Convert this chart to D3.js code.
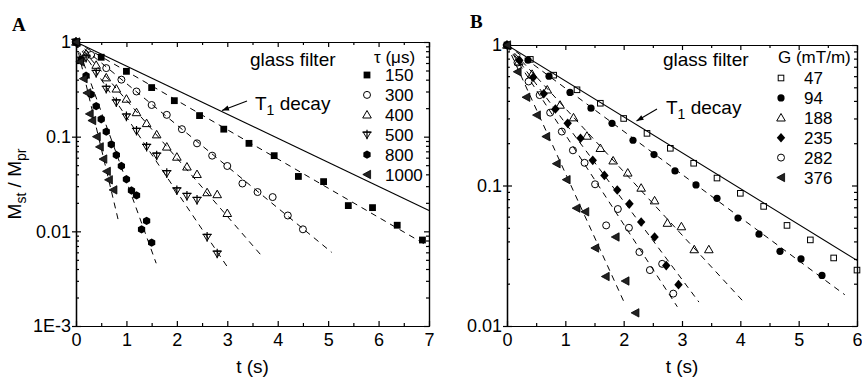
<!DOCTYPE html>
<html><head><meta charset="utf-8">
<script src="https://cdn.jsdelivr.net/npm/d3@7"></script>
<style>
body{margin:0;background:#fff}
svg{display:block}
text{font-family:"Liberation Sans",Arial,sans-serif;fill:#000}
.axis path,.axis line{stroke:#000;stroke-width:1.2}
</style>
</head><body><svg id="c" width="862" height="378"></svg>
<script>
// ---------- Panel A data (tau in µs) ----------
const tauLabels = ["150", "300", "400", "500", "800", "1000"];
const tA150 = [0, 0.5, 1.0, 1.5, 1.95, 2.45, 2.93, 3.43, 3.93, 4.41, 4.91, 5.4, 5.88, 6.37, 6.87];
const vA150 = [1, 0.69, 0.49, 0.33, 0.24, 0.167, 0.12, 0.085, 0.063, 0.038, 0.0335, 0.0187, 0.0178, 0.0116, 0.0081];
const tA300 = [0, 0.3, 0.6, 0.9, 1.2, 1.5, 1.8, 2.1, 2.4, 2.7, 3.0, 3.3, 3.6, 3.9, 4.2, 4.5];
const vA300 = [1, 0.73, 0.53, 0.40, 0.30, 0.216, 0.17, 0.12, 0.085, 0.063, 0.049, 0.032, 0.026, 0.023, 0.0147, 0.0105];
const tA400 = [0, 0.2, 0.4, 0.6, 0.8, 1.0, 1.2, 1.4, 1.6, 1.8, 2.0, 2.2, 2.4, 2.6, 2.8, 3.0];
const vA400 = [1, 0.75, 0.57, 0.42, 0.32, 0.25, 0.18, 0.138, 0.105, 0.078, 0.061, 0.048, 0.04, 0.0257, 0.0245, 0.0155];
const tA500 = [0, 0.2, 0.4, 0.6, 0.8, 1.0, 1.2, 1.4, 1.6, 1.8, 2.0, 2.2, 2.4, 2.6, 2.8];
const vA500 = [1, 0.68, 0.47, 0.32, 0.23, 0.163, 0.115, 0.078, 0.063, 0.041, 0.027, 0.0236, 0.0214, 0.0087, 0.0058];
const tA800 = [0, 0.1, 0.2, 0.3, 0.4, 0.5, 0.6, 0.7, 0.8, 0.9, 1.0, 1.1, 1.2, 1.3, 1.4, 1.5];
const vA800 = [1, 0.65, 0.44, 0.28, 0.21, 0.153, 0.113, 0.083, 0.064, 0.049, 0.0355, 0.027, 0.024, 0.0105, 0.0129, 0.0076];
const tA1000 = [0, 0.08, 0.15, 0.22, 0.27, 0.32, 0.41, 0.47, 0.54, 0.61, 0.65, 0.74];
const vA1000 = [1, 0.62, 0.41, 0.29, 0.174, 0.148, 0.1, 0.078, 0.058, 0.043, 0.035, 0.0274];
// fitted exponential decays: end point [t, value], all start at (0,1)
const fitA150 = [7, 0.0069], fitA300 = [5.07, 0.006], fitA400 = [3.67, 0.0056];
const fitA500 = [2.99, 0.0043], fitA800 = [1.59, 0.0046], fitA1000 = [0.84, 0.013];
const t1A = [7, 0.0166];
const xTicksA = [0, 1, 2, 3, 4, 5, 6, 7];
const yTicksA = [1, 0.1, 0.01, 0.001];
const yTickLabelsA = ["1", "0.1", "0.01", "1E-3"];

// ---------- Panel B data (G in mT/m) ----------
const gLabels = ["47", "94", "188", "235", "282", "376"];
const tB47 = [0, 0.4, 0.8, 1.2, 1.6, 2.0, 2.4, 2.8, 3.2, 3.6, 4.0, 4.4, 4.8, 5.2, 5.6, 6.0];
const vB47 = [1, 0.79, 0.61, 0.48, 0.385, 0.30, 0.235, 0.184, 0.144, 0.113, 0.088, 0.071, 0.052, 0.041, 0.0305, 0.025];
const tB94 = [0, 0.36, 0.72, 1.08, 1.44, 1.8, 2.16, 2.52, 2.88, 3.24, 3.6, 3.96, 4.32, 4.68, 5.04, 5.4];
const vB94 = [1, 0.78, 0.6, 0.46, 0.355, 0.277, 0.21, 0.166, 0.127, 0.101, 0.081, 0.0586, 0.045, 0.034, 0.030, 0.0229];
const tB188 = [0, 0.2, 0.43, 0.69, 0.91, 1.14, 1.37, 1.6, 1.82, 2.07, 2.3, 2.53, 2.75, 2.99, 3.21, 3.46];
const vB188 = [1, 0.76, 0.62, 0.48, 0.374, 0.304, 0.225, 0.184, 0.15, 0.123, 0.096, 0.078, 0.054, 0.051, 0.035, 0.035];
const tB235 = [0, 0.21, 0.45, 0.63, 0.83, 1.04, 1.26, 1.47, 1.67, 1.89, 2.1, 2.3, 2.53, 2.73, 2.94];
const vB235 = [1, 0.78, 0.59, 0.45, 0.35, 0.277, 0.217, 0.151, 0.118, 0.093, 0.074, 0.055, 0.043, 0.0269, 0.0197];
const tB282 = [0, 0.18, 0.37, 0.56, 0.74, 0.94, 1.13, 1.33, 1.51, 1.7, 1.9, 2.09, 2.27, 2.45, 2.66, 2.85];
const vB282 = [1, 0.75, 0.55, 0.44, 0.33, 0.242, 0.178, 0.145, 0.102, 0.052, 0.068, 0.050, 0.0336, 0.025, 0.0277, 0.017];
const tB376 = [0, 0.18, 0.33, 0.51, 0.67, 0.85, 1.02, 1.19, 1.34, 1.51, 1.69, 1.86, 2.03, 2.2];
const vB376 = [1, 0.645, 0.425, 0.317, 0.223, 0.143, 0.11, 0.069, 0.065, 0.0359, 0.0225, 0.043, 0.0209, 0.0124];
const fitB94 = [5.79, 0.0167], fitB188 = [4.06, 0.0148], fitB235 = [3.29, 0.0148];
const fitB282 = [2.92, 0.0137], fitB376 = [2.0, 0.015];
const t1B = [6, 0.0293];
const xTicksB = [0, 1, 2, 3, 4, 5, 6];
const yTicksB = [1, 0.1, 0.01];
const yTickLabelsB = ["1", "0.1", "0.01"];

// ---------- drawing ----------
const svg = d3.select("#c");

function marker(g, type) {
  switch (type) {
    case "sqFill": g.append("rect").attr("x", -3.4).attr("y", -3.4).attr("width", 6.8).attr("height", 6.8).attr("fill", "#000"); break;
    case "sqOpen": g.append("rect").attr("x", -2.8).attr("y", -2.8).attr("width", 5.6).attr("height", 5.6).attr("fill", "none").attr("stroke", "#000").attr("stroke-width", 1); break;
    case "circOpen": g.append("circle").attr("r", 3.5).attr("fill", "none").attr("stroke", "#000").attr("stroke-width", 1); break;
    case "circFill": g.append("circle").attr("r", 3.6).attr("fill", "#000"); break;
    case "hexFill": {
      const pts = d3.range(6).map(i => [4.2 * Math.cos(Math.PI / 3 * i + Math.PI / 6), 4.2 * Math.sin(Math.PI / 3 * i + Math.PI / 6)]);
      g.append("path").attr("d", "M" + pts.join("L") + "Z").attr("fill", "#000"); break;
    }
    case "triOpen": g.append("path").attr("d", "M0,-4.3L4.3,3.2L-4.3,3.2Z").attr("fill", "none").attr("stroke", "#000").attr("stroke-width", 1); break;
    case "triDownStem":
      g.append("path").attr("d", "M-3.8,-2.6L3.8,-2.6L0,3.8Z").attr("fill", "none").attr("stroke", "#000").attr("stroke-width", 1);
      g.append("path").attr("d", "M-4.6,-2.6L4.6,-2.6M0,-5L0,4.6").attr("stroke", "#000").attr("stroke-width", 1.2);
      break;
    case "triLeft": g.append("path").attr("d", "M-4.2,0L3.6,-4.2L3.6,4.2Z").attr("fill", "#222").attr("stroke", "#000").attr("stroke-width", 0.8); break;
    case "diamond": g.append("path").attr("d", "M0,-4.8L4.2,0L0,4.8L-4.2,0Z").attr("fill", "#000"); break;
  }
}

function panel(o) {
  const x = d3.scaleLinear().domain(o.xDomain).range([o.left, o.right]);
  const y = d3.scaleLog().domain(o.yDomain).range([o.bottom, o.top]);
  const g = svg.append("g");
  const minorX = d3.range(o.xDomain[0] + 0.5, o.xDomain[1], 1);
  const minorY = [];
  for (let d = o.yDomain[0]; d < o.yDomain[1] * 0.99; d *= 10) for (let k = 2; k <= 9; k++) minorY.push(d * k);

  // bottom axis
  g.append("g").attr("class", "axis").attr("transform", `translate(0,${o.bottom})`)
    .call(d3.axisBottom(x).tickValues(o.xTicks).tickFormat(d3.format("d")).tickSizeInner(-5).tickSizeOuter(0).tickPadding(7))
    .call(s => s.selectAll("text").attr("font-size", 18).style("font-family", '"Liberation Sans",Arial,sans-serif'));
  g.append("g").attr("class", "axis").attr("transform", `translate(0,${o.bottom})`)
    .call(d3.axisBottom(x).tickValues(minorX).tickFormat("").tickSizeInner(-3).tickSizeOuter(0));
  // top axis
  g.append("g").attr("class", "axis").attr("transform", `translate(0,${o.top})`)
    .call(d3.axisTop(x).tickValues(o.xTicks).tickFormat("").tickSizeInner(-5).tickSizeOuter(0));
  g.append("g").attr("class", "axis").attr("transform", `translate(0,${o.top})`)
    .call(d3.axisTop(x).tickValues(minorX).tickFormat("").tickSizeInner(-3).tickSizeOuter(0));
  // left axis
  g.append("g").attr("class", "axis").attr("transform", `translate(${o.left},0)`)
    .call(d3.axisLeft(y).tickValues(o.yTicks).tickFormat((d, i) => o.yTickLabels[i]).tickSizeInner(-5).tickSizeOuter(0).tickPadding(5))
    .call(s => s.selectAll("text").attr("font-size", 18).style("font-family", '"Liberation Sans",Arial,sans-serif'));
  g.append("g").attr("class", "axis").attr("transform", `translate(${o.left},0)`)
    .call(d3.axisLeft(y).tickValues(o.yTicks).tickFormat("").tickSizeInner(4).tickSizeOuter(0));
  g.append("g").attr("class", "axis").attr("transform", `translate(${o.left},0)`)
    .call(d3.axisLeft(y).tickValues(minorY).tickFormat("").tickSizeInner(-3).tickSizeOuter(0));
  // right axis
  g.append("g").attr("class", "axis").attr("transform", `translate(${o.right},0)`)
    .call(d3.axisRight(y).tickValues(o.yTicks).tickFormat("").tickSizeInner(-5).tickSizeOuter(0));
  g.append("g").attr("class", "axis").attr("transform", `translate(${o.right},0)`)
    .call(d3.axisRight(y).tickValues(minorY).tickFormat("").tickSizeInner(-3).tickSizeOuter(0));

  const line = d3.line().x(d => x(d[0])).y(d => y(d[1]));
  // T1 decay
  g.append("path").attr("d", line([[0, 1], o.t1])).attr("fill", "none").attr("stroke", "#000").attr("stroke-width", 1.1);
  // fits
  o.series.forEach(s => {
    if (s.fit) g.append("path").attr("d", line([[0, 1], s.fit])).attr("fill", "none")
      .attr("stroke", "#000").attr("stroke-width", 1).attr("stroke-dasharray", "6,5");
  });
  // points
  o.series.forEach(s => {
    s.t.forEach((t, i) => {
      const m = g.append("g").attr("transform", `translate(${x(t)},${y(s.v[i])})`);
      marker(m, s.marker);
    });
  });
  // legend
  const lg = g.append("g");
  lg.append("text").attr("x", o.glassX).attr("y", 66).attr("font-size", 19).text("glass filter");
  lg.append("text").attr("x", o.legTitleX).attr("y", 63).attr("font-size", 17).text(o.legTitle);
  o.series.forEach((s, i) => {
    const by = o.legY0 + i * 19.9;
    marker(lg.append("g").attr("transform", `translate(${o.legMarkX},${by - 6})`), s.marker);
    lg.append("text").attr("x", o.legTextX).attr("y", by).attr("font-size", 17).text(s.label);
  });
  // T1 annotation
  const ann = g.append("g");
  const tt = ann.append("text").attr("x", o.annX).attr("y", o.annY).attr("font-size", 19);
  tt.append("tspan").text("T");
  tt.append("tspan").attr("dy", 5).attr("font-size", 14).text("1");
  tt.append("tspan").attr("dy", -5).text(" decay");
  ann.append("line").attr("x1", o.arrow[0]).attr("y1", o.arrow[1]).attr("x2", o.arrow[2]).attr("y2", o.arrow[3])
    .attr("stroke", "#000").attr("stroke-width", 1.1);
  const ang = Math.atan2(o.arrow[3] - o.arrow[1], o.arrow[2] - o.arrow[0]);
  const hx = o.arrow[2], hy = o.arrow[3], L = 7, W = 2.6;
  const bx = hx - L * Math.cos(ang), by2 = hy - L * Math.sin(ang);
  ann.append("path").attr("d", `M${hx},${hy}L${bx - W * Math.sin(ang)},${by2 + W * Math.cos(ang)}L${bx + W * Math.sin(ang)},${by2 - W * Math.cos(ang)}Z`).attr("fill", "#000");
  // x label
  g.append("text").attr("x", (o.left + o.right) / 2).attr("y", 373).attr("text-anchor", "middle").attr("font-size", 19).text("t (s)");
  // panel letter
  g.append("text").attr("x", o.letterX).attr("y", o.letterY).attr("font-size", 19).attr("font-weight", "bold")
    .style("font-family", '"Liberation Serif","Times New Roman",serif').text(o.letter);
}

panel({
  xDomain: [0, 7], yDomain: [0.001, 1], left: 76, right: 429, top: 42, bottom: 326,
  xTicks: xTicksA, yTicks: yTicksA, yTickLabels: yTickLabelsA, t1: t1A,
  series: [
    {label: tauLabels[0], marker: "sqFill", t: tA150, v: vA150, fit: fitA150},
    {label: tauLabels[1], marker: "circOpen", t: tA300, v: vA300, fit: fitA300},
    {label: tauLabels[2], marker: "triOpen", t: tA400, v: vA400, fit: fitA400},
    {label: tauLabels[3], marker: "triDownStem", t: tA500, v: vA500, fit: fitA500},
    {label: tauLabels[4], marker: "hexFill", t: tA800, v: vA800, fit: fitA800},
    {label: tauLabels[5], marker: "triLeft", t: tA1000, v: vA1000, fit: fitA1000}
  ],
  glassX: 250, legTitle: "τ (μs)", legTitleX: 374, legY0: 81, legMarkX: 367, legTextX: 385,
  annX: 255, annY: 110, arrow: [247, 101, 222, 110.5], letter: "A", letterX: 12, letterY: 31
});

panel({
  xDomain: [0, 6], yDomain: [0.01, 1], left: 507, right: 857, top: 45, bottom: 326,
  xTicks: xTicksB, yTicks: yTicksB, yTickLabels: yTickLabelsB, t1: t1B,
  series: [
    {label: gLabels[0], marker: "sqOpen", t: tB47, v: vB47, fit: null},
    {label: gLabels[1], marker: "circFill", t: tB94, v: vB94, fit: fitB94},
    {label: gLabels[2], marker: "triOpen", t: tB188, v: vB188, fit: fitB188},
    {label: gLabels[3], marker: "diamond", t: tB235, v: vB235, fit: fitB235},
    {label: gLabels[4], marker: "circOpen", t: tB282, v: vB282, fit: fitB282},
    {label: gLabels[5], marker: "triLeft", t: tB376, v: vB376, fit: fitB376}
  ],
  glassX: 663, legTitle: "G (mT/m)", legTitleX: 778, legY0: 84, legMarkX: 781, legTextX: 804,
  annX: 666, annY: 114, arrow: [657, 109, 636.5, 121], letter: "B", letterX: 470, letterY: 28
});

// y axis label of panel A
const yl = svg.append("text").attr("transform", "translate(21,184) rotate(-90)").attr("text-anchor", "middle").attr("font-size", 19);
yl.append("tspan").text("M");
yl.append("tspan").attr("dy", 5).attr("font-size", 14).text("st");
yl.append("tspan").attr("dy", -5).text(" / M");
yl.append("tspan").attr("dy", 5).attr("font-size", 14).text("pr");
</script>
</body></html>
